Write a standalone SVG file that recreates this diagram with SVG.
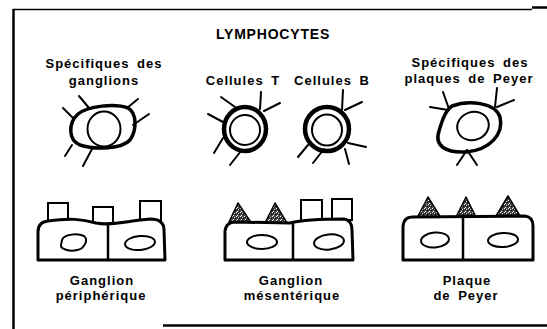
<svg xmlns="http://www.w3.org/2000/svg" width="547" height="329" viewBox="0 0 547 329">
  <style>
    text { font-family: "Liberation Sans", Arial, sans-serif; font-weight: bold; font-size: 13px; letter-spacing: 1px; word-spacing: 3px; fill: #000; text-anchor: middle; }
    .title { font-size: 14px; letter-spacing: 0.8px; }
    .outer { fill: none; stroke: #000; stroke-width: 3.5; }
    .inner { fill: none; stroke: #000; stroke-width: 2; }
    .ring { fill: none; stroke: #000; stroke-width: 4.5; }
    .spike { stroke: #000; stroke-width: 2; stroke-linecap: round; fill: none; }
    .block { fill: #fff; stroke: #000; stroke-width: 3; stroke-linejoin: round; }
    .wall { stroke: #000; stroke-width: 2.5; }
    .villus { fill: #fff; stroke: #000; stroke-width: 2; }
    .nucleus { fill: none; stroke: #000; stroke-width: 2; }
    .patch { fill: url(#stipple); stroke: #000; stroke-width: 1.5; stroke-linejoin: round; }
    .frame { stroke: #000; fill: none; }
  </style>
  <defs>
    <pattern id="stipple" width="4" height="4" patternUnits="userSpaceOnUse">
      <rect width="4" height="4" fill="#444"/>
      <rect x="0" y="0" width="1" height="1" fill="#fff"/>
      <rect x="2" y="1" width="1" height="1" fill="#ddd"/>
      <rect x="1" y="3" width="1" height="1" fill="#fff"/>
      <rect x="3" y="2" width="1" height="1" fill="#000"/>
      <rect x="1" y="1" width="1" height="1" fill="#000"/>
    </pattern>
  </defs>

  <!-- frame -->
  <g id="frame">
    <line class="frame" x1="13" y1="9.5" x2="532" y2="9.5" stroke-width="1.5"/>
    <line class="frame" x1="532" y1="7.5" x2="547" y2="7.5" stroke-width="2.5"/>
    <line class="frame" x1="13.5" y1="9" x2="13.5" y2="329" stroke-width="2.5"/>
    <line class="frame" x1="163" y1="325.5" x2="547" y2="325.5" stroke-width="2.5"/>
  </g>

  <text class="title" x="273" y="39">LYMPHOCYTES</text>

  <!-- lymphocytes -->
  <g id="lympho-ganglions">
    <text x="104" y="68">Spécifiques des</text>
    <text x="104" y="85">ganglions</text>
    <g class="spike">
      <line x1="79" y1="96" x2="89" y2="108"/>
      <line x1="63" y1="108" x2="74" y2="119"/>
      <line x1="127" y1="108" x2="138" y2="99"/>
      <line x1="133" y1="125" x2="149" y2="114"/>
      <line x1="72" y1="145" x2="65" y2="156"/>
      <line x1="92" y1="149" x2="83" y2="166"/>
    </g>
    <path class="outer" d="M 78,114 C 88,106 115,103 128,108 C 137,113 137,130 130,140 C 122,149 95,150 80,145 C 68,140 68,123 78,114 Z"/>
    <ellipse class="inner" cx="104" cy="129" rx="16.5" ry="17.5"/>
  </g>

  <g id="lympho-t">
    <text x="243" y="85">Cellules T</text>
    <g class="spike">
      <line x1="221" y1="97" x2="235" y2="107"/>
      <line x1="208" y1="114" x2="223" y2="122"/>
      <line x1="261" y1="92" x2="260" y2="109"/>
      <line x1="264" y1="111" x2="280" y2="103"/>
      <line x1="223" y1="138" x2="214" y2="153"/>
      <line x1="241" y1="151" x2="230" y2="165"/>
    </g>
    <ellipse class="ring" cx="245" cy="129" rx="21" ry="22"/>
    <ellipse class="inner" cx="245" cy="130" rx="15" ry="15"/>
  </g>

  <g id="lympho-b">
    <text x="332" y="85">Cellules B</text>
    <g class="spike">
      <line x1="343" y1="90" x2="342" y2="110"/>
      <line x1="345" y1="110" x2="362" y2="102"/>
      <line x1="308" y1="145" x2="298" y2="157"/>
      <line x1="324" y1="149" x2="313" y2="163"/>
      <line x1="348" y1="143" x2="366" y2="147"/>
      <line x1="345" y1="149" x2="349" y2="164"/>
    </g>
    <ellipse class="ring" cx="327" cy="129" rx="22" ry="22"/>
    <ellipse class="inner" cx="327" cy="130" rx="15" ry="15.5"/>
  </g>

  <g id="lympho-peyer">
    <text x="470" y="67">Spécifiques des</text>
    <text x="469" y="83">plaques de Peyer</text>
    <g class="spike">
      <line x1="443" y1="92" x2="449" y2="109"/>
      <line x1="430" y1="107" x2="448" y2="110"/>
      <line x1="497" y1="88" x2="495" y2="107"/>
      <line x1="497" y1="107" x2="514" y2="100"/>
      <line x1="467" y1="150" x2="457" y2="165"/>
      <line x1="467" y1="150" x2="477" y2="165"/>
    </g>
    <path class="outer" d="M 452,106 C 468,100 495,102 500,117 C 504,134 490,150 466,152 C 446,153 434,146 439,131 C 442,121 445,111 452,106 Z"/>
    <ellipse class="inner" cx="473" cy="126" rx="16" ry="14" transform="rotate(-20 473 126)"/>
  </g>

  <!-- tissues -->
  <g id="tissue-peripherique">
    <rect class="villus" x="48" y="203" width="20" height="20"/>
    <rect class="villus" x="93" y="207" width="20" height="17"/>
    <rect class="villus" x="140" y="201" width="21" height="21"/>
    <path class="block" d="M 38,260 L 38,232 Q 38,222 48,221 C 70,218 82,219 96,223 C 112,226 126,221 150,219 Q 164,219 164,230 L 165,260 Z"/>
    <line class="wall" x1="108" y1="223" x2="108" y2="260"/>
    <path class="nucleus" d="M 62,240 C 64,234 78,233 84,236 C 89,240 84,249 77,250 C 70,252 60,249 61,245 Z"/>
    <ellipse class="nucleus" cx="140" cy="243" rx="15" ry="7" transform="rotate(-5 140 243)"/>
    <text x="102" y="285">Ganglion</text>
    <text x="101" y="300">périphérique</text>
  </g>

  <g id="tissue-mesenterique">
    <rect class="villus" x="301" y="200" width="21" height="21"/>
    <rect class="villus" x="332" y="199" width="20" height="21"/>
    <path class="patch" d="M 229,222 L 238,203 L 250,221 Z"/>
    <path class="patch" d="M 265,223 L 275,203 L 287,223 Z"/>
    <path class="block" d="M 225,260 L 225,231 Q 226,223 234,222 L 290,223 C 302,220 322,219 344,219 Q 352,220 352,230 L 353,260 Z"/>
    <line class="wall" x1="293" y1="222" x2="293" y2="260"/>
    <ellipse class="nucleus" cx="262" cy="242" rx="15" ry="7"/>
    <ellipse class="nucleus" cx="329" cy="242" rx="15" ry="7.5" transform="rotate(-6 329 242)"/>
    <text x="291" y="285">Ganglion</text>
    <text x="292" y="300">mésentérique</text>
  </g>

  <g id="tissue-peyer">
    <path class="patch" d="M 417,218 L 428,197 L 441,218 Z"/>
    <path class="patch" d="M 456,217 L 466,197 L 476,217 Z"/>
    <path class="patch" d="M 496,216 L 508,196 L 520,216 Z"/>
    <path class="block" d="M 403,260 L 403,226 Q 404,217 412,217 L 525,216 Q 533,217 533,226 L 533,260 Z"/>
    <line class="wall" x1="463" y1="217" x2="463" y2="260"/>
    <ellipse class="nucleus" cx="435" cy="240" rx="14" ry="7.5" transform="rotate(-5 435 240)"/>
    <ellipse class="nucleus" cx="503" cy="240" rx="15" ry="7" transform="rotate(-3 503 240)"/>
    <text x="467" y="285">Plaque</text>
    <text x="466" y="300">de Peyer</text>
  </g>
</svg>
